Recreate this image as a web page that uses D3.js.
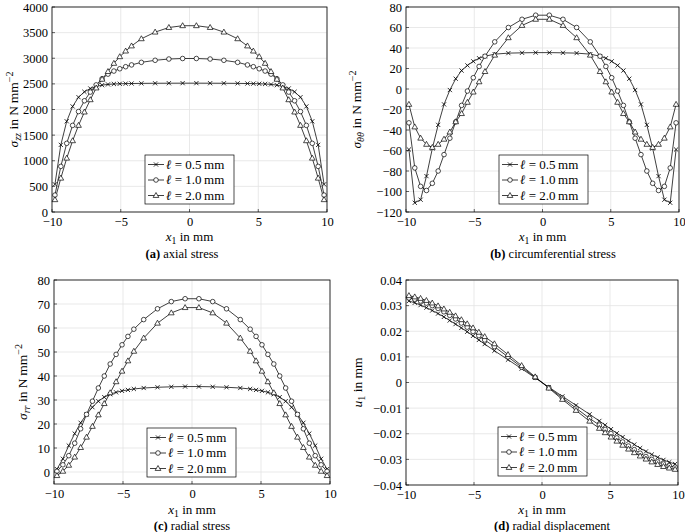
<!DOCTYPE html>
<html><head><meta charset="utf-8">
<script src="https://cdn.jsdelivr.net/npm/d3@7"></script>
<style>body{margin:0;background:#fff} svg{font-family:"Liberation Serif","DejaVu Serif",serif}</style>
</head><body><svg id="chart" width="685" height="532"></svg>
<script>
// ---------- DATA ----------
const xPos = [-9.786,-9.357,-8.929,-8.5,-8.071,-7.643,-7.214,-6.786,-6.357,-5.929,-5.5,-5.071,-4.643,-4.214,-3.5,-2.5,-1.5,-0.5,
               0.5,1.5,2.5,3.5,4.214,4.643,5.071,5.5,5.929,6.357,6.786,7.214,7.643,8.071,8.5,8.929,9.357,9.786];
const seriesLabels = ["0.5", "1.0", "2.0"];
const xTicks = [-10, -5, 0, 5, 10];

// (a) axial stress sigma_zz
const szz_05 = [540,1310,1770,2060,2240,2345,2410,2450,2475,2490,2498,2502,2505,2507,2510,2512,2513,2514,
                2514,2513,2512,2510,2507,2505,2502,2498,2490,2475,2450,2410,2345,2240,2060,1770,1310,540];
const szz_10 = [330,890,1340,1690,1960,2170,2340,2480,2600,2690,2750,2795,2835,2870,2920,2960,2985,2995,
                2995,2985,2960,2920,2870,2835,2795,2750,2690,2600,2480,2340,2170,1960,1690,1340,890,330];
const szz_20 = [240,660,1050,1390,1690,1950,2190,2420,2590,2740,2900,3030,3140,3240,3380,3510,3600,3635,
                3635,3600,3510,3380,3240,3140,3030,2900,2740,2590,2420,2190,1950,1690,1390,1050,660,240];
const szzTicks = [0,500,1000,1500,2000,2500,3000,3500,4000];

// (b) circumferential stress sigma_thetatheta
const stt_05 = [-59,-111,-108,-85,-58,-35,-15,-1,10,18,23,27,30,32,34,35,35.3,35.5,
                35.5,35.3,35,34,32,30,27,23,18,10,-1,-15,-35,-58,-85,-108,-111,-59];
const stt_10 = [-33,-77,-95,-99,-92,-80,-64,-48,-32,-16,-2,11,22,32,46,60,68,72,
                72,68,60,46,32,22,11,-2,-16,-32,-48,-64,-80,-92,-99,-95,-77,-33];
const stt_20 = [-15,-37,-48,-54,-57,-54,-49,-42,-32,-24,-13,-3,7,17,33,50,62,68,
                68,62,50,33,17,7,-3,-13,-24,-32,-42,-49,-54,-57,-54,-48,-37,-15];
const sttTicks = [-120,-100,-80,-60,-40,-20,0,20,40,60,80];

// (c) radial stress sigma_rr
const srr_05 = [1.2,5.5,11,16,20.5,24,27,29.5,31.2,32.4,33.2,33.8,34.2,34.6,35,35.3,35.5,35.6,
                35.6,35.5,35.3,35,34.6,34.2,33.8,33.2,32.4,31.2,29.5,27,24,20.5,16,11,5.5,1.2];
const srr_10 = [0.3,3,6.8,12,18,24,29.5,35,40,45,49,53,56.5,59.5,63.5,68,71,72.2,
                72.2,71,68,63.5,59.5,56.5,53,49,45,40,35,29.5,24,18,12,6.8,3,0.3];
const srr_20 = [-1.5,0.3,2.8,6.2,10.2,14.5,19,23.8,28.5,33,37.6,42,46.3,50.3,55.8,62,66.3,68.5,
                68.5,66.3,62,55.8,50.3,46.3,42,37.6,33,28.5,23.8,19,14.5,10.2,6.2,2.8,0.3,-1.5];
const srrTicks = [0,10,20,30,40,50,60,70,80];

// (d) radial displacement u1
const u_05 = [0.0318,0.0311,0.0302,0.0292,0.0281,0.0269,0.0256,0.0242,0.0228,0.0213,0.0198,0.0182,0.0166,0.0150,0.0124,0.0089,0.0054,0.0018,
              -0.0018,-0.0054,-0.0089,-0.0124,-0.0150,-0.0166,-0.0182,-0.0198,-0.0213,-0.0228,-0.0242,-0.0256,-0.0269,-0.0281,-0.0292,-0.0302,-0.0311,-0.0318];
const u_10 = [0.0330,0.0325,0.0318,0.0310,0.0300,0.0289,0.0276,0.0262,0.0248,0.0232,0.0216,0.0199,0.0183,0.0166,0.0140,0.0100,0.0060,0.0020,
              -0.0020,-0.0060,-0.0100,-0.0140,-0.0166,-0.0183,-0.0199,-0.0216,-0.0232,-0.0248,-0.0262,-0.0276,-0.0289,-0.0300,-0.0310,-0.0318,-0.0325,-0.0330];
const u_20 = [0.0339,0.0334,0.0328,0.0320,0.0310,0.0299,0.0287,0.0274,0.0260,0.0245,0.0229,0.0213,0.0196,0.0179,0.0151,0.0109,0.0066,0.0022,
              -0.0022,-0.0066,-0.0109,-0.0151,-0.0179,-0.0196,-0.0213,-0.0229,-0.0245,-0.0260,-0.0274,-0.0287,-0.0299,-0.0310,-0.0320,-0.0328,-0.0334,-0.0339];
const uTicks = [-0.04,-0.03,-0.02,-0.01,0,0.01,0.02,0.03,0.04];

// ---------- DRAWING ----------
const svg = d3.select("#chart");
const FS = 12.5;
const markerTypes = ["cross", "circle", "triangle"];

function drawMarker(g, type, x, y) {
  if (type === "cross") {
    const s = 2.1;
    g.append("path").attr("d", `M${x-s},${y-s}L${x+s},${y+s}M${x-s},${y+s}L${x+s},${y-s}`)
      .attr("stroke", "#000").attr("stroke-width", 0.8).attr("fill", "none");
  } else if (type === "circle") {
    g.append("circle").attr("cx", x).attr("cy", y).attr("r", 2.3)
      .attr("fill", "#fff").attr("stroke", "#000").attr("stroke-width", 0.7);
  } else {
    const s = 3.0;
    g.append("path").attr("d", `M${x},${y-s}L${x+s*0.95},${y+s*0.65}L${x-s*0.95},${y+s*0.65}Z`)
      .attr("fill", "#fff").attr("stroke", "#000").attr("stroke-width", 0.7);
  }
}

function rich(parent, x, y, parts, opts) {
  const size = opts.size || FS;
  const t = parent.append("text").attr("x", x).attr("y", y)
    .attr("font-size", size).attr("text-anchor", opts.anchor || "middle").attr("fill", "#000");
  if (opts.rotate) t.attr("transform", `rotate(-90,${x},${y})`);
  let cur = 0;
  parts.forEach(p => {
    const ts = t.append("tspan").text(p.t);
    let target = 0;
    if (p.sub) { target = 2.6; ts.attr("font-size", size * 0.75); }
    if (p.sup) { target = -5; ts.attr("font-size", size * 0.75); }
    if (target !== cur) { ts.attr("dy", target - cur); cur = target; }
    if (p.i) ts.attr("font-style", "italic");
    if (p.b) ts.attr("font-weight", "bold");
  });
  return t;
}

function panel(cfg) {
  const g = svg.append("g");
  const x = d3.scaleLinear().domain([-10, 10]).range([cfg.left, cfg.right]);
  const y = d3.scaleLinear().domain(cfg.yDomain).range([cfg.bottom, cfg.top]);
  // grid
  g.append("g").selectAll("line").data(xTicks).join("line")
    .attr("x1", d => x(d)).attr("x2", d => x(d)).attr("y1", cfg.top).attr("y2", cfg.bottom)
    .attr("stroke", "#e3e3e3").attr("stroke-width", 0.8);
  g.append("g").selectAll("line").data(cfg.yTicks).join("line")
    .attr("x1", cfg.left).attr("x2", cfg.right).attr("y1", d => y(d)).attr("y2", d => y(d))
    .attr("stroke", "#e3e3e3").attr("stroke-width", 0.8);
  // axes (labels only)
  const xa = g.append("g").attr("transform", `translate(0,${cfg.bottom})`)
    .call(d3.axisBottom(x).tickValues(xTicks).tickSize(0).tickPadding(5).tickFormat(d3.format("d")));
  const ya = g.append("g").attr("transform", `translate(${cfg.left},0)`)
    .call(d3.axisLeft(y).tickValues(cfg.yTicks).tickSize(0).tickPadding(4).tickFormat(cfg.fmt));
  [xa, ya].forEach(a => {
    a.select(".domain").remove();
    a.selectAll("text").attr("font-size", FS).attr("font-family", '"Liberation Serif","DejaVu Serif",serif').attr("fill", "#000");
  });
  // small inward ticks
  g.append("g").selectAll("line").data(xTicks).join("line")
    .attr("x1", d => x(d)).attr("x2", d => x(d)).attr("y1", cfg.bottom).attr("y2", cfg.bottom - 3)
    .attr("stroke", "#000").attr("stroke-width", 0.6);
  g.append("g").selectAll("line").data(cfg.yTicks).join("line")
    .attr("x1", cfg.left).attr("x2", cfg.left + 3).attr("y1", d => y(d)).attr("y2", d => y(d))
    .attr("stroke", "#000").attr("stroke-width", 0.6);
  // series
  const line = d3.line().x(d => x(d[0])).y(d => y(d[1]));
  cfg.series.forEach((vals, k) => {
    const pts = xPos.map((xv, i) => [xv, vals[i]]);
    g.append("path").datum(pts).attr("d", line).attr("fill", "none")
      .attr("stroke", "#000").attr("stroke-width", 0.75);
  });
  cfg.series.forEach((vals, k) => {
    const mg = g.append("g");
    xPos.forEach((xv, i) => drawMarker(mg, markerTypes[k], x(xv), y(vals[i])));
  });
  // frame
  g.append("rect").attr("x", cfg.left).attr("y", cfg.top)
    .attr("width", cfg.right - cfg.left).attr("height", cfg.bottom - cfg.top)
    .attr("fill", "none").attr("stroke", "#000").attr("stroke-width", 0.8);
  // legend
  const L = cfg.legend;
  const lg = g.append("g");
  lg.append("rect").attr("x", L.x).attr("y", L.y).attr("width", 89).attr("height", 49)
    .attr("fill", "#fff").attr("stroke", "#000").attr("stroke-width", 0.7);
  seriesLabels.forEach((s, k) => {
    const cy = L.y + 9.5 + k * 15.5;
    lg.append("line").attr("x1", L.x + 3).attr("x2", L.x + 19).attr("y1", cy).attr("y2", cy)
      .attr("stroke", "#000").attr("stroke-width", 0.75);
    drawMarker(lg, markerTypes[k], L.x + 11, cy);
    rich(lg, L.x + 21, cy + 4.3, [{t: "ℓ", i: true}, {t: " = " + s + "\u2009mm"}], {anchor: "start", size: 13});
  });
  // x label
  rich(g, (cfg.left + cfg.right) / 2, cfg.xlabY, [{t: "x", i: true}, {t: "1", sub: true}, {t: " in mm"}], {size: 13});
  // y label
  rich(g, cfg.ylabX, (cfg.top + cfg.bottom) / 2, cfg.ylab, {rotate: true, size: 13.5});
  // caption
  rich(g, cfg.capX, cfg.capY, [{t: cfg.cap[0], b: true}, {t: " " + cfg.cap[1]}], {size: 12.5});
}

const fmtInt = d => d3.format("d")(d);
const fmtU = d => d === 0 ? "0" : d3.format(".2f")(d);

panel({left: 52, right: 327, top: 7, bottom: 212, yDomain: [0, 4000], yTicks: szzTicks, fmt: fmtInt,
  series: [szz_05, szz_10, szz_20], legend: {x: 145, y: 155},
  xlabY: 241, ylabX: 18, capX: 182, capY: 258,
  ylab: [{t: "σ", i: true}, {t: "zz", sub: true, i: true}, {t: " in N\u2009mm"}, {t: "−2", sup: true}],
  cap: ["(a)", "axial stress"]});

panel({left: 406, right: 679, top: 7, bottom: 212, yDomain: [-120, 80], yTicks: sttTicks, fmt: fmtInt,
  series: [stt_05, stt_10, stt_20], legend: {x: 499, y: 155},
  xlabY: 241, ylabX: 361, capX: 553, capY: 258,
  ylab: [{t: "σ", i: true}, {t: "θθ", sub: true, i: true}, {t: " in N\u2009mm"}, {t: "−2", sup: true}],
  cap: ["(b)", "circumferential stress"]});

panel({left: 54, right: 330, top: 280, bottom: 484, yDomain: [-5, 80], yTicks: srrTicks, fmt: fmtInt,
  series: [srr_05, srr_10, srr_20], legend: {x: 147, y: 428},
  xlabY: 514, ylabX: 27, capX: 192, capY: 530,
  ylab: [{t: "σ", i: true}, {t: "rr", sub: true, i: true}, {t: " in N\u2009mm"}, {t: "−2", sup: true}],
  cap: ["(c)", "radial stress"]});

panel({left: 406, right: 678, top: 280, bottom: 485, yDomain: [-0.04, 0.04], yTicks: uTicks, fmt: fmtU,
  series: [u_05, u_10, u_20], legend: {x: 498, y: 427},
  xlabY: 514, ylabX: 362, capX: 552, capY: 530,
  ylab: [{t: "u", i: true}, {t: "1", sub: true}, {t: " in mm"}],
  cap: ["(d)", "radial displacement"]});
</script></body></html>
